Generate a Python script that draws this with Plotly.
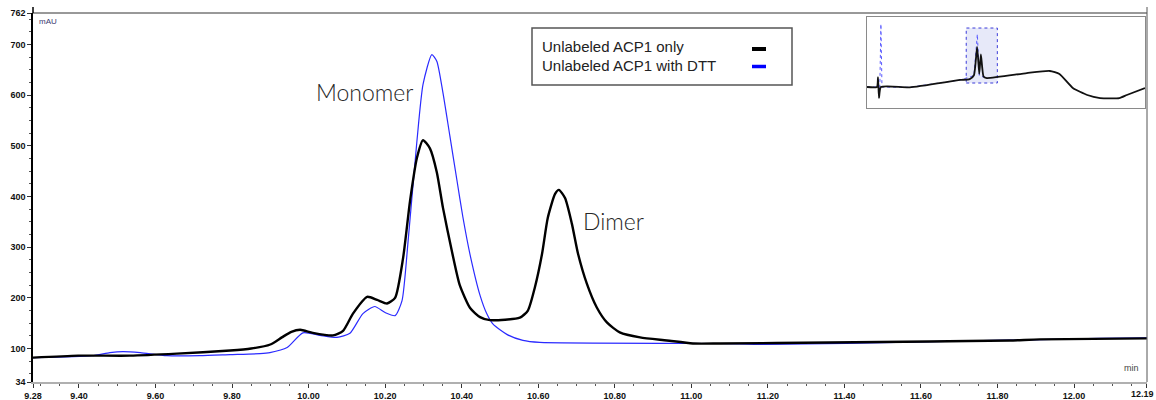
import numpy as np
import plotly.graph_objects as go

# ---------------- data ----------------
black_t = [9.280, 9.398, 9.533, 9.656, 9.795, 9.850, 9.900, 9.930, 9.955, 9.978,
           10.011, 10.064, 10.090, 10.116, 10.153, 10.179, 10.205, 10.226, 10.247, 10.265,
           10.283, 10.299, 10.317, 10.335, 10.351, 10.375, 10.395, 10.422, 10.448, 10.474,
           10.552, 10.573, 10.591, 10.610, 10.625, 10.644, 10.654, 10.670, 10.688, 10.704,
           10.727, 10.753, 10.780, 10.813, 10.866, 10.936, 11.004, 11.075, 11.362, 11.623,
           11.832, 11.911, 12.190]
black_v = [82, 86, 86, 90, 96, 100, 108, 122, 133, 137,
           131, 126, 135, 169, 202, 196, 189, 200, 279, 391,
           476, 511, 495, 448, 378, 290, 225, 180, 162, 156,
           161, 175, 220, 287, 358, 405, 413, 397, 346, 287,
           228, 181, 151, 132, 122, 116, 110, 110, 112, 114,
           116, 118, 120]

blue_t = [9.280, 9.434, 9.481, 9.515, 9.560, 9.630, 9.716, 9.795, 9.873, 9.899,
          9.944, 9.985, 10.030, 10.074, 10.108, 10.142, 10.173, 10.200, 10.226, 10.244,
          10.260, 10.283, 10.299, 10.322, 10.335, 10.351, 10.369, 10.388, 10.403, 10.422,
          10.448, 10.466, 10.482, 10.518, 10.560, 10.604, 11.075, 11.192, 11.600, 12.067,
          12.190]
blue_v = [82, 86, 92, 94, 92, 86, 86, 88, 90, 92,
          102, 131, 126, 122, 130, 169, 183, 171, 165, 194,
          312, 509, 621, 680, 667, 605, 520, 430, 360, 285,
          205, 168, 148, 128, 116, 112, 110, 108, 113, 120,
          121]

# overview (inset) chromatogram
inset_black_t = [0, 0.93, 1.03, 1.12, 1.3, 4.0, 8.7, 9.6, 10.0, 10.3, 10.5, 10.65, 10.9,
                 11.2, 14.95, 17.1, 18.0, 19.25, 20.6, 21.8, 23.6, 24.3, 26]
inset_black_v = [-19, -19, 113, -165, -19, -23, 74, 85, 137, 511, 155, 413, 120,
                 100, 166, 193, 153, -32, -125, -165, -165, -125, -32]
inset_blue_t = [0, 1.2, 1.3, 1.4, 4.0, 8.7, 10.0, 10.32, 10.5, 11.2]
inset_blue_v = [-19, -19, 815, -19, -23, 74, 131, 680, 130, 100]

series_names = ["Unlabeled ACP1 only", "Unlabeled ACP1 with DTT"]

x_tickvals = [9.28, 9.40, 9.60, 9.80, 10.00, 10.20, 10.40, 10.60, 10.80, 11.00,
              11.20, 11.40, 11.60, 11.80, 12.00, 12.19]
x_ticktext = ["9.28", "9.40", "9.60", "9.80", "10.00", "10.20", "10.40", "10.60", "10.80",
              "11.00", "11.20", "11.40", "11.60", "11.80", "12.00", "12.19"]
y_tickvals = [34, 100, 200, 300, 400, 500, 600, 700, 762]
y_ticktext = ["34", "100", "200", "300", "400", "500", "600", "700", "762"]

X_RANGE = [9.28, 12.19]
Y_RANGE = [34, 762]

# ---------------- layout geometry (pixels) ----------------
W, H = 1156, 400
L, R, T, B = 33, 1147, 13, 382
PW, PH = R - L, B - T


def px(xp):
    return (xp - L) / PW


def py(yp):
    return (B - yp) / PH


BLACK = "#000000"
BLUE = "#2a2aff"

fig = go.Figure()

fig.add_trace(go.Scatter(x=blue_t, y=blue_v, mode="lines", name=series_names[1],
                         line=dict(color=BLUE, width=1.2, shape="spline", smoothing=0.6),
                         showlegend=False))
fig.add_trace(go.Scatter(x=black_t, y=black_v, mode="lines", name=series_names[0],
                         line=dict(color=BLACK, width=2.4, shape="spline", smoothing=0.6),
                         showlegend=False))

# inset
fig.add_trace(go.Scatter(x=inset_blue_t, y=inset_blue_v, mode="lines", xaxis="x2", yaxis="y2",
                         line=dict(color="#5a5aff", width=1, dash="dot"), showlegend=False))
fig.add_trace(go.Scatter(x=inset_black_t, y=inset_black_v, mode="lines", xaxis="x2", yaxis="y2",
                         line=dict(color="#111111", width=1.8, shape="spline", smoothing=0.5),
                         showlegend=False))

tickfont = dict(family="Liberation Sans Narrow, Liberation Sans, Arial", size=9,
                color="#111111", weight="bold")

minor_x = [v for v in np.round(np.arange(9.30, 12.19, 0.05), 2) if v not in x_tickvals]
minor_y = [v for v in range(50, 762, 25) if v not in y_tickvals]

# last x label drawn as an annotation so it stays inside the page
x_ticktext_axis = x_ticktext[:-1] + [""]

inset_x0, inset_x1, inset_y0, inset_y1 = 867, 1145, 17, 108

fig.update_layout(
    width=W, height=H,
    margin=dict(l=L, r=W - R, t=T, b=H - B, pad=0, autoexpand=False),
    paper_bgcolor="white", plot_bgcolor="white",
    xaxis=dict(range=[X_RANGE[0], X_RANGE[1] + 0.0005], tickmode="array",
               tickvals=x_tickvals, ticktext=x_ticktext_axis,
               automargin=False, ticklabeloverflow="allow",
               showgrid=False, zeroline=False, showline=True, linecolor="#b0b0b0", linewidth=2,
               ticks="outside", ticklen=4, tickcolor="#333", tickwidth=1, tickfont=tickfont,
               minor=dict(tickvals=minor_x, ticks="outside", ticklen=2, tickcolor="#555")),
    yaxis=dict(range=Y_RANGE, tickmode="array", tickvals=y_tickvals, ticktext=y_ticktext,
               automargin=False, ticklabeloverflow="allow",
               showgrid=False, zeroline=False, showline=True, linecolor="black", linewidth=1.5,
               ticks="outside", ticklen=4, tickcolor="#333", tickwidth=1, tickfont=tickfont,
               minor=dict(tickvals=minor_y, ticks="outside", ticklen=2, tickcolor="#555")),
    xaxis2=dict(domain=[px(inset_x0), px(inset_x1)], anchor="y2", range=[0, 26],
                automargin=False,
                showgrid=False, zeroline=False, showticklabels=False, ticks="",
                showline=True, mirror=True, linecolor="#8a8a8a", linewidth=1),
    yaxis2=dict(domain=[py(inset_y1), py(inset_y0)], anchor="x2", range=[-297, 908],
                automargin=False,
                showgrid=False, zeroline=False, showticklabels=False, ticks="",
                showline=True, mirror=True, linecolor="#8a8a8a", linewidth=1),
    showlegend=False,
)

shapes = []
# frame: top and right borders, axis extension
shapes.append(dict(type="line", xref="paper", yref="paper", x0=px(L), x1=px(R), y0=py(13), y1=py(13),
                   line=dict(color="#333333", width=1)))
shapes.append(dict(type="line", xref="paper", yref="paper", x0=px(R), x1=px(R), y0=py(7), y1=py(382),
                   line=dict(color="#555555", width=1)))
shapes.append(dict(type="line", xref="paper", yref="paper", x0=px(33), x1=px(33), y0=py(7), y1=py(13),
                   line=dict(color="black", width=1.5)))
# inset background
shapes.append(dict(type="rect", xref="paper", yref="paper", layer="below",
                   x0=px(inset_x0), x1=px(inset_x1), y0=py(inset_y1), y1=py(inset_y0),
                   fillcolor="#f7f7f7", line=dict(width=0)))
# zoom window in inset
shapes.append(dict(type="rect", xref="x2", yref="y2", layer="below",
                   x0=X_RANGE[0], x1=X_RANGE[1], y0=Y_RANGE[0], y1=Y_RANGE[1],
                   fillcolor="rgba(215,218,245,0.6)", line=dict(color="#3b3bd9", width=1, dash="dot")))
# legend box
leg_x0, leg_x1, leg_y0, leg_y1 = 532, 792, 28, 85
shapes.append(dict(type="rect", xref="paper", yref="paper",
                   x0=px(leg_x0), x1=px(leg_x1), y0=py(leg_y1), y1=py(leg_y0),
                   fillcolor="white", line=dict(color="#555555", width=1.5)))
# legend swatches
shapes.append(dict(type="line", xref="paper", yref="paper", x0=px(752), x1=px(766),
                   y0=py(49), y1=py(49), line=dict(color=BLACK, width=4)))
shapes.append(dict(type="line", xref="paper", yref="paper", x0=px(752), x1=px(766),
                   y0=py(66.5), y1=py(66.5), line=dict(color="#0000ff", width=3.5)))

annotations = []
legfont = dict(family="Liberation Sans, Arial", size=15, color="#222222")
annotations.append(dict(xref="paper", yref="paper", x=px(540), y=py(47), text=series_names[0],
                        showarrow=False, xanchor="left", yanchor="middle", font=legfont))
annotations.append(dict(xref="paper", yref="paper", x=px(540), y=py(65.5), text=series_names[1],
                        showarrow=False, xanchor="left", yanchor="middle", font=legfont))
labfont = dict(family="Lato, Open Sans, sans-serif", size=23, color="#262626", weight=300)
annotations.append(dict(xref="paper", yref="paper", x=px(365), y=py(92), text="Monomer",
                        showarrow=False, xanchor="center", yanchor="middle", font=labfont))
annotations.append(dict(xref="paper", yref="paper", x=px(613), y=py(221), text="Dimer",
                        showarrow=False, xanchor="center", yanchor="middle", font=labfont))
annotations.append(dict(xref="paper", yref="paper", x=px(37), y=py(21), text="mAU",
                        showarrow=False, xanchor="left", yanchor="middle",
                        font=dict(family="Liberation Sans Narrow, Liberation Sans, Arial", size=8,
                                  color="#3a3a70")))
annotations.append(dict(xref="paper", yref="paper", x=px(1141), y=py(368), text="min",
                        showarrow=False, xanchor="right", yanchor="middle",
                        font=dict(family="Liberation Sans, Arial", size=9, color="#444444")))
annotations.append(dict(xref="paper", yref="paper", x=px(1155), y=py(394), text=x_ticktext[-1],
                        showarrow=False, xanchor="right", yanchor="middle",
                        borderpad=0, font=tickfont))

fig.update_layout(shapes=shapes, annotations=annotations)

fig.write_html("out.html")
